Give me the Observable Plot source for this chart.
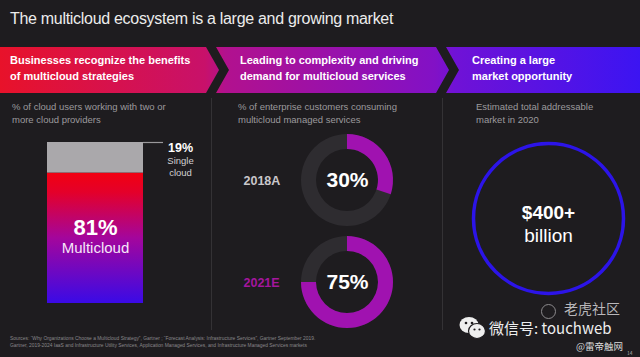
<!DOCTYPE html>
<html><head><meta charset="utf-8">
<script src="https://cdn.jsdelivr.net/npm/d3@7"></script>
<script src="https://cdn.jsdelivr.net/npm/@observablehq/plot@0.6"></script>
<style>
html,body{margin:0;padding:0;background:#1e1c1f;}
#page{position:relative;width:640px;height:357px;overflow:hidden;background:#1e1c1f;font-family:"Liberation Sans",Arial,sans-serif;color:#fff;}
.abs{position:absolute;white-space:nowrap;}
#title{left:10px;top:9px;font-size:16px;letter-spacing:-0.3px;line-height:20px;color:#ececec;}
.seg{position:absolute;top:47px;height:46px;background-image:linear-gradient(90deg,#e8122a 0px,#c8116a 205px,#b2118e 225px,#8211c6 435px,#7012d6 455px,#3c14f2 640px);background-size:640px 46px;}
.segtext{position:absolute;top:52px;font-size:11px;font-weight:bold;line-height:16px;color:#fff;white-space:nowrap;}
.sub{position:absolute;top:101px;font-size:9.5px;line-height:12.5px;color:#9c9a9d;white-space:nowrap;}
.divider{position:absolute;width:1px;top:98px;height:232px;background:#343235;}
.plotbox{position:absolute;}
.plotbox svg{display:block;overflow:visible;}
#sources{left:10px;top:335px;font-size:4.9px;line-height:7px;color:#8a888b;}
.wm{position:absolute;white-space:nowrap;line-height:1;font-family:"Noto Sans CJK SC","Liberation Sans",sans-serif;}
</style></head>
<body>
<div id="page"></div>
<script>
// ---------- data ----------
const titleText = "The multicloud ecosystem is a large and growing market";
const stageLines = [
  ["Businesses recognize the benefits", "of multicloud strategies"],
  ["Leading to complexity and driving", "demand for multicloud services"],
  ["Creating a large", "market opportunity"]
];
const subtitleLines = [
  ["% of cloud users working with two or", "more cloud providers"],
  ["% of enterprise customers consuming", "multicloud managed services"],
  ["Estimated total addressable", "market in 2020"]
];
const shareLabels = ["Multicloud", "Single cloud"];
const shareValues = [81, 19];
const years = ["2018A", "2021E"];
const managedShares = [30, 75];
const marketValue = "$400+";
const marketUnit = "billion";
const sourceLines = [
  "Sources: \u201cWhy Organizations Choose a Multicloud Strategy\u201d, Gartner ; \u201cForecast Analysis: Infrastructure Services\u201d, Gartner September 2019.",
  "Gartner, 2019-2024 IaaS and Infrastructure Utility Services, Application Managed Services, and Infrastructure Managed Services markets"
];

// ---------- layout ----------
const page = document.getElementById("page");
function add(tag, cls, style, html) {
  const el = document.createElement(tag);
  if (cls) el.className = cls;
  Object.assign(el.style, style || {});
  if (html != null) el.innerHTML = html;
  page.appendChild(el);
  return el;
}
add("div", "abs", {}, titleText).id = "title";

// banner segments
add("div", "seg", {left:"0px", width:"220px", backgroundPosition:"0px 0px",
  clipPath:"polygon(0 0,206px 0,219px 23px,206px 46px,0 46px)"});
add("div", "seg", {left:"216px", width:"234px", backgroundPosition:"-216px 0px",
  clipPath:"polygon(0 0,220px 0,233px 23px,220px 46px,0 46px,13px 23px)"});
add("div", "seg", {left:"446px", width:"194px", backgroundPosition:"-446px 0px",
  clipPath:"polygon(0 0,194px 0,194px 46px,0 46px,13px 23px)"});
const stageX = [10, 240, 472];
stageLines.forEach((l, i) => add("div", "segtext", {left: stageX[i] + "px"}, l.join("<br>")));

const subX = [12, 238, 476];
subtitleLines.forEach((l, i) => add("div", "sub", {left: subX[i] + "px"}, l.join("<br>")));
add("div", "divider", {left:"211px"});
add("div", "divider", {left:"442px"});

const font = "Liberation Sans, Arial, sans-serif";
const baseStyle = {background:"transparent", fontFamily: font, color:"#fff", overflow:"visible"};

// ---------- left: stacked bar ----------
const shareData = shareLabels.map((label, i) => ({group: "users", label, value: shareValues[i]}));
const gradDefs = () => {
  const defs = d3.create("svg:defs");
  const g = defs.append("linearGradient").attr("id", "mcGrad")
    .attr("x1", 0).attr("x2", 0).attr("y1", 0).attr("y2", 1);
  g.append("stop").attr("offset", "0%").attr("stop-color", "#f20010");
  g.append("stop").attr("offset", "15%").attr("stop-color", "#e4002a");
  g.append("stop").attr("offset", "50%").attr("stop-color", "#a4069c");
  g.append("stop").attr("offset", "100%").attr("stop-color", "#3a0ae6");
  return defs.node();
};
const isSingle = d => d.label === "Single cloud";
const leftPlot = Plot.plot({
  width: 210, height: 180, marginTop: 10, marginBottom: 9, marginLeft: 47, marginRight: 67,
  style: baseStyle,
  x: {axis: null, padding: 0},
  y: {axis: null, domain: [0, 100]},
  color: {domain: shareLabels, range: ["url(#mcGrad)", "#aaa8ab"]},
  marks: [
    gradDefs,
    Plot.barY(shareData, Plot.stackY({x: "group", y: "value", fill: "label"})),
    Plot.tickY(shareData, Plot.stackY2({x: "group", y: "value",
      stroke: d => isSingle(d) ? "#9a989b" : "none", strokeWidth: 1.2, insetLeft: 96, insetRight: -20})),
    Plot.text(shareData, Plot.stackY2({x: "group", y: "value",
      text: d => isSingle(d) ? d.value + "%" : "", dx: 85, dy: 5, fontSize: 12.5, fontWeight: "bold", fill: "#fff"})),
    Plot.text(shareData, Plot.stackY2({x: "group", y: "value",
      text: d => isSingle(d) ? d.label.replace(" ", "\n") : "", dx: 85, dy: 24, lineHeight: 1.25,
      fontSize: 9.5, fill: "#d2d0d3"})),
    Plot.text(shareData, Plot.stackY({x: "group", y: "value",
      text: d => isSingle(d) ? "" : d.value + "%", dy: -10, fontSize: 22, fontWeight: "bold", fill: "#fff"})),
    Plot.text(shareData, Plot.stackY({x: "group", y: "value",
      text: d => isSingle(d) ? "" : d.label, dy: 10, fontSize: 15, fill: "#f6e6f8"}))
  ]
});
add("div", "plotbox", {left: "0px", top: "132px"}).appendChild(leftPlot);

// ---------- middle: donuts ----------
const donutData = years.map((year, i) => ({year, value: managedShares[i]}));
const angle = Plot.scale({x: {domain: [0, 100], range: [0, 2 * Math.PI]}});
const donuts = (index, scales, values, dims) => {
  const g = d3.create("svg:g");
  const cx = (dims.marginLeft + dims.width - dims.marginRight) / 2;
  const y = scales.y;
  const bw = y.bandwidth ? y.bandwidth() : 0;
  const arc = d3.arc().innerRadius(31).outerRadius(46);
  for (const d of donutData) {
    const cy = y(d.year) + bw / 2;
    const gg = g.append("g").attr("transform", `translate(${cx},${cy})`);
    gg.append("path").attr("d", arc({startAngle: 0, endAngle: 2 * Math.PI})).attr("fill", "#2e2c30");
    gg.append("path").attr("d", arc({startAngle: 0, endAngle: angle.apply(d.value)})).attr("fill", "#a012b0");
  }
  return g.node();
};
const midPlot = Plot.plot({
  width: 230, height: 204, marginTop: 0, marginBottom: 0, marginLeft: 42, marginRight: 0,
  style: baseStyle,
  y: {type: "band", axis: null, domain: years, padding: 0},
  color: {domain: years, range: ["#c9c7ca", "#a4169e"]},
  marks: [
    Plot.text(donutData, {y: "year", text: "year", frameAnchor: "left", textAnchor: "start", dx: -10,
      fill: "year", fontSize: 12.5, fontWeight: "bold"}),
    donuts,
    Plot.text(donutData, {y: "year", text: d => d.value + "%", frameAnchor: "middle",
      fontSize: 21, fontWeight: "bold", fill: "#fff"})
  ]
});
add("div", "plotbox", {left: "211px", top: "129px"}).appendChild(midPlot);

// ---------- right: market circle ----------
const rightPlot = Plot.plot({
  width: 198, height: 160, marginTop: 0, marginBottom: 0, marginLeft: 14, marginRight: 0,
  style: baseStyle,
  marks: [
    Plot.dot([marketValue], {x: null, y: null, frameAnchor: "middle", r: 75, stroke: "#2c14e8", strokeWidth: 3.5, fill: "none"}),
    Plot.text([marketValue], {x: null, y: null, frameAnchor: "middle", text: d => d, dy: -6, fontSize: 19, fontWeight: "bold", fill: "#fff"}),
    Plot.text([marketUnit], {x: null, y: null, frameAnchor: "middle", text: d => d, dy: 17, fontSize: 19, fill: "#fff"})
  ]
});
add("div", "plotbox", {left: "442px", top: "138px"}).appendChild(rightPlot);

// ---------- footer ----------
add("div", "abs", {}, sourceLines.join("<br>")).id = "sources";

// watermark
add("div", "wm", {left: "459px", top: "316px"},
  `<svg width="28" height="24"><ellipse cx="10" cy="9" rx="9.5" ry="8" fill="#eeeeee"/>
   <ellipse cx="18" cy="15" rx="8.5" ry="7.5" fill="#eeeeee" stroke="#1e1c1f" stroke-width="1.2"/>
   <circle cx="7" cy="7" r="1.3" fill="#1e1c1f"/><circle cx="13" cy="7" r="1.3" fill="#1e1c1f"/>
   <circle cx="15.5" cy="13.5" r="1.1" fill="#1e1c1f"/><circle cx="20.5" cy="13.5" r="1.1" fill="#1e1c1f"/></svg>`);
add("div", "wm", {left: "541px", top: "304px", width: "13px", height: "13px", border: "1px solid #8c8a8d", borderRadius: "50%"});
add("div", "wm", {left: "564px", top: "301px", fontSize: "14px", color: "rgba(215,213,216,0.85)"}, "老虎社区");
add("div", "wm", {left: "489px", top: "320px", fontSize: "15px", color: "#eeeeee"}, "微信号: touchweb");
add("div", "wm", {left: "576px", top: "342px", fontSize: "9.5px", color: "#dddddd"}, "@雷帝触网");
add("div", "wm", {left: "627px", top: "350px", fontSize: "5px", color: "#aaaaaa"}, "14");
</script>
</body></html>
